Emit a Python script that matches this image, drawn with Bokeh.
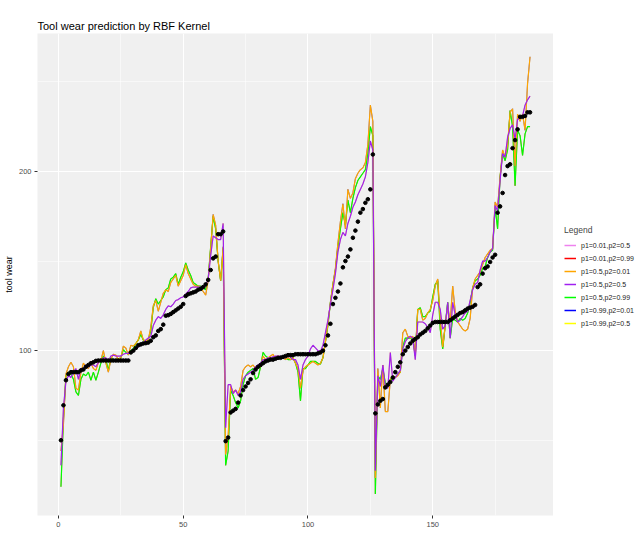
from bokeh.plotting import figure
from bokeh.layouts import row
from bokeh.models import Range1d, FixedTicker, Legend, LegendItem
from bokeh.embed import file_html
from bokeh.resources import INLINE

FONT = "Liberation Sans"

# ---------------- data ----------------
index = list(range(1, 190))

actual = [
    # run 1 (1..66)
    50, 69.5, 83.5, 87, 88, 88, 88, 88, 89, 89.5,
    91, 92, 93, 93.5, 94.3, 94.5, 94.5, 94.5, 94.5, 94.5,
    94.5, 94.5, 94.5, 94.5, 94.5, 94.5, 94.5, 94.5, 99, 100,
    101.5, 103, 103.5, 104, 104.2, 104.5, 105.5, 107.5, 108.5, 111,
    112, 114.5, 119.5, 119.8, 120.5, 121.5, 122.5, 123.5, 124.5, 126,
    130.5, 131.5, 132, 132.5, 133, 134, 134.5, 135.5, 137, 139.5,
    145, 151.5, 152.5, 165, 165, 166.5,
    # run 2 (67..126)
    49.5, 51.5, 65.5, 66.5, 67.5, 71, 75, 78, 80, 82,
    84, 87.5, 89.5, 91, 92, 93, 94, 94.5, 95, 95,
    95.5, 96, 96, 96.5, 97, 97.5, 97.5, 97.5, 98, 98,
    98, 98, 98, 98, 98, 98, 98, 98.5, 99, 100,
    103, 108.5, 115, 126, 129.5, 133, 137.5, 146.5, 150, 152.5,
    156.5, 163, 167, 172, 177, 179, 182.5, 184.5, 190, 209.5,
    # run 3 (127..189)
    65, 70, 72, 73, 79.5, 81, 82.5, 85, 88, 91,
    93.5, 98, 100, 102, 104, 105.5, 106.5, 107.5, 109, 110,
    111, 112.5, 114, 115.5, 116, 116, 116, 116, 116, 116,
    117, 118, 119, 120, 121, 121.5, 122.5, 123.5, 124, 124.5,
    125.5, 135.5, 137, 143, 146, 147, 149.5, 152, 153.5, 177,
    180.5, 188, 198, 203, 204, 213, 217.5, 223.5, 230.5, 230.5,
    231, 233, 233,
]

# p2 = 0.01 (orange, blue beneath it)
pred_p2_001 = [
    44, 59, 87, 91, 93.5, 91, 79, 78, 88, 93,
    91, 90, 93, 90, 89, 93.5, 94.5, 100, 93, 88,
    95, 98, 97.5, 95, 96, 102.5, 101.5, 97.5, 103, 102.5,
    104, 106, 111, 106, 105.5, 106, 113, 125, 128, 122,
    127, 132, 134, 133, 138, 140, 142, 136, 139, 142,
    148, 143, 140, 137, 136, 136, 135, 133, 131, 139,
    157, 176, 170, 150, 139, 158,
    42, 52, 80, 77, 78, 76, 80, 89, 91, 92,
    91, 92, 90, 91, 91, 97, 95, 96, 97, 98,
    95, 97, 96, 96, 95, 96, 95, 96, 93, 90,
    79, 89, 91, 92, 93, 94, 93, 92, 93, 96,
    105, 115, 127, 137, 146, 160, 172, 182, 168, 190,
    185, 188, 196, 199, 201, 202, 205, 215, 237, 228,
    29, 90, 68, 92, 66, 66, 84, 86, 85, 86,
    88, 110, 112, 108, 107, 108, 98, 123, 123, 117,
    118, 121, 123, 128, 136, 140, 118, 102, 114, 125,
    116, 136, 122, 116, 114, 112, 111, 112, 118, 135,
    140, 142, 144, 148, 152, 154, 156, 157, 183, 180,
    197, 212, 208, 215, 233, 235, 203, 232, 228, 232,
    223, 249, 264,
]

# p2 = 0.5 (purple, violet and yellow beneath it)
pred_p2_05 = [
    36, 68, 83, 86, 85, 88, 90, 84, 90, 90,
    92, 91, 92, 92, 91, 93.5, 94, 96, 96, 94,
    97, 97.5, 97, 97, 97, 98, 98.5, 98.5, 99, 100,
    101, 102, 103, 104, 106, 107, 108, 114, 117, 119,
    118, 120, 123, 125, 124.5, 126, 128, 128.5, 129.5, 130,
    131.5, 133, 135, 135.5, 135.5, 135.5, 135.5, 136, 136, 140,
    153, 164, 163, 162, 162, 171,
    57, 81, 81, 76, 78, 75, 77, 84, 86, 87,
    88, 89, 91, 92, 93, 95, 95, 96, 96, 96.5,
    97, 97, 97, 96.5, 96, 97, 96.5, 95, 95, 92,
    84, 92, 95, 97, 101, 103, 101.5, 100, 99.5, 103,
    110, 117, 126, 134, 143, 155, 162, 166, 164, 171,
    175, 180, 183, 187, 190, 193, 197, 205, 217, 212,
    33, 86, 80, 92, 80, 79, 99, 83, 85, 87,
    89, 101, 105, 107, 108, 107, 95, 116, 116, 116,
    115, 113, 110, 120, 127, 127, 123, 112, 114, 127,
    107, 127, 120, 116, 117, 119, 121, 122, 128, 134,
    137, 138, 145, 150, 150, 152, 155, 157, 181, 178,
    195, 210, 208, 219, 224, 226, 218, 229, 230, 231,
    237, 240, 242,
]

# p2 = 0.99 (green, red beneath it)
pred_p2_099 = [
    24, 62, 86, 88, 87, 84, 77, 75, 84, 87,
    86, 88, 83.5, 88, 83.5, 88, 93, 97, 95, 89,
    96, 95, 95, 95.5, 96, 100.5, 99, 98, 100, 101,
    104, 106, 109, 106, 105, 106, 111, 124, 129, 126,
    128, 130, 134, 135, 140, 141, 143, 137, 141, 144,
    149, 145, 142, 138, 137, 136, 136, 135, 134, 140,
    158, 175, 168, 150, 139, 157,
    36, 44, 78, 75, 71, 68, 72, 81, 86, 88,
    89, 90, 84, 85, 91, 99, 97, 96, 96, 96,
    96, 95.5, 97, 96, 96, 95, 95, 96, 93, 88,
    72, 90, 90, 92, 94, 94, 94, 93, 92.5, 96,
    105, 114, 127, 137, 145, 158, 168, 177, 170, 184,
    177, 185, 191, 195, 197, 199, 201, 210, 225, 220,
    20, 86, 84, 90, 82, 81, 84, 84, 85, 87,
    88, 102, 107, 107, 107, 107, 97, 123, 124, 119,
    119, 121, 122, 130, 137, 139, 112, 101, 114, 127,
    107, 118, 117, 116, 118, 117, 118, 121, 127, 135,
    139, 140, 142, 146, 147, 152, 155, 156, 180, 168,
    197, 210, 206, 212, 234, 225, 192, 223, 220, 209,
    221, 225, 225,
]

legend_labels = ["p1=0.01,p2=0.5", "p1=0.01,p2=0.99", "p1=0.5,p2=0.01",
                 "p1=0.5,p2=0.5", "p1=0.5,p2=0.99", "p1=0.99,p2=0.01",
                 "p1=0.99,p2=0.5"]
legend_colors = ["#EE82EE", "#FF0000", "#FFA500", "#A020F0", "#00FF00",
                 "#0000FF", "#FFFF00"]
series = [pred_p2_05, pred_p2_099, pred_p2_001, pred_p2_05, pred_p2_099,
          pred_p2_001, pred_p2_05]
# series hidden under an identical curve are drawn first and thinner
draw_order = [0, 1, 5, 6, 4, 2, 3]
hidden = {0, 1, 5, 6}

x_ticks = [0, 50, 100, 150]
x_minor = [25, 75, 125, 175]
y_ticks = [100, 200]
y_minor = [50, 150, 250]

# ---------------- main figure ----------------
FW, FH = 516, 482
TOTAL_H = 531
p = figure(frame_width=FW, frame_height=FH, output_backend="svg",
           toolbar_location=None,
           x_range=Range1d(-8.4, 198.4), y_range=Range1d(8, 277),
           background_fill_color="#F0F0F0", border_fill_color="white",
           min_border_left=2, min_border_right=0, min_border_top=33,
           min_border_bottom=2)
p.outline_line_color = None
p.title.text = "Tool wear prediction by RBF Kernel"
p.title.text_font = FONT
p.title.text_font_size = "11px"
p.title.text_font_style = "normal"
p.title.text_color = "black"
p.title.align = "left"
p.title.standoff = 4

xt = FixedTicker(ticks=x_ticks, minor_ticks=x_minor)
yt = FixedTicker(ticks=y_ticks, minor_ticks=y_minor)
p.xaxis.ticker = xt
p.yaxis.ticker = yt
p.xgrid.ticker = xt
p.ygrid.ticker = yt
for g in (p.xgrid, p.ygrid):
    g.grid_line_color = "white"
    g.grid_line_width = 1.1
    g.minor_grid_line_color = "white"
    g.minor_grid_line_width = 0.55

for ax in (p.xaxis, p.yaxis):
    ax.axis_line_color = None
    ax.major_tick_line_color = "#333333"
    ax.major_tick_out = 3
    ax.major_tick_in = 0
    ax.minor_tick_line_color = None
    ax.major_label_text_color = "#4D4D4D"
    ax.major_label_text_font = FONT
    ax.major_label_text_font_size = "7.5px"
    ax.major_label_standoff = 2
p.yaxis.axis_label = "tool wear"
p.yaxis.axis_label_text_font = FONT
p.yaxis.axis_label_text_font_size = "9px"
p.yaxis.axis_label_text_font_style = "normal"
p.yaxis.axis_label_text_color = "black"
p.yaxis.axis_label_standoff = 2

for i in draw_order:
    p.line(index, series[i], line_color=legend_colors[i],
           line_width=0.6 if i in hidden else 1.2)

p.scatter(index, actual, size=3.6, color="black")

# ---------------- legend panel (separate figure, no frame content) ----------------
lg = figure(width=86, height=TOTAL_H, output_backend="svg", toolbar_location=None,
            x_range=Range1d(0, 1), y_range=Range1d(0, 1),
            x_axis_type=None, y_axis_type=None,
            min_border=0, border_fill_color="white",
            background_fill_color="white")
lg.outline_line_color = None
lg.grid.visible = False
# renderers that only serve as legend keys (their data lie outside the view)
key_x = [5, 6]
key_y = [5, 6]
keys = [lg.line(key_x, key_y, line_color=c, line_width=1.5) for c in legend_colors]

legend = Legend(items=[LegendItem(label=legend_labels[i], renderers=[keys[i]])
                       for i in range(7)],
                title="Legend", location=(11, TOTAL_H - 343))
legend.title_text_font = FONT
legend.title_text_font_size = "8.5px"
legend.title_text_font_style = "normal"
legend.title_standoff = 4
legend.label_text_font = FONT
legend.label_text_font_size = "7px"
legend.label_text_color = "#222222"
legend.glyph_width = 12
legend.glyph_height = 12
legend.label_standoff = 5
legend.label_height = 12
legend.spacing = 1
legend.padding = 2
legend.margin = 0
legend.border_line_color = None
legend.background_fill_alpha = 0
lg.add_layout(legend)

layout = row(p, lg)
open("out.html", "w").write(file_html(layout, INLINE))
